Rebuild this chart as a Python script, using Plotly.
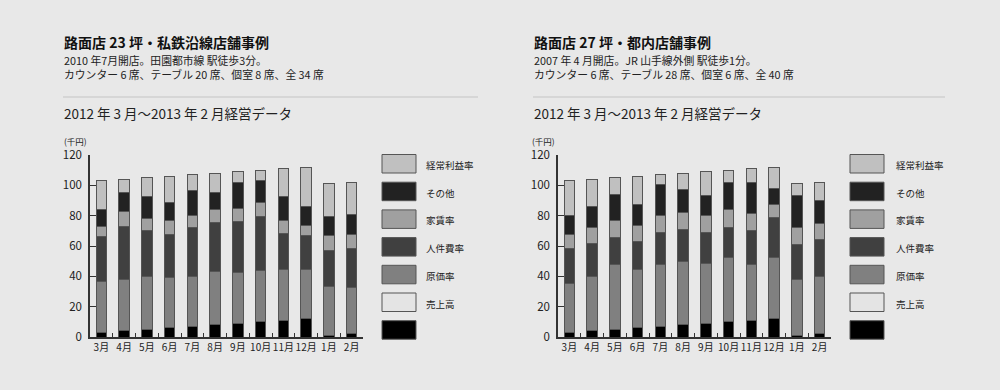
import plotly.graph_objects as go

W, H = 1000, 390
FONT = "Noto Sans CJK JP"
BG = "#e8e8e8"
TXT = "#222222"

months = ["3月", "4月", "5月", "6月", "7月", "8月", "9月", "10月", "11月", "12月", "1月", "2月"]
y_ticks = [0, 20, 40, 60, 80, 100, 120]

# stacked segments, bottom to top (千円)
left_base = [3, 4, 5, 6, 7, 8, 9, 10, 11, 12, 1, 2]
left_genka = [33.3, 34.1, 34.6, 33.0, 32.6, 34.9, 33.7, 33.6, 33.5, 32.5, 32.5, 30.4]
left_jinken = [29.8, 34.6, 30.6, 28.6, 32.6, 32.4, 33.7, 35.9, 23.8, 22.2, 23.5, 26.0]
left_yachin = [6.6, 9.9, 7.7, 9.2, 8.2, 8.8, 8.2, 9.2, 8.3, 6.6, 9.9, 9.2]
left_sonota = [11.6, 12.5, 15.0, 11.9, 16.3, 11.0, 17.6, 14.8, 16.3, 12.8, 12.8, 13.4]
left_keijo = [18.7, 8.9, 12.1, 17.3, 10.3, 12.9, 6.8, 6.5, 18.1, 25.9, 21.3, 21.0]

right_base = [3, 4, 5, 6, 7, 8, 9, 10, 11, 12, 1, 2]
right_genka = [32.4, 35.6, 43.1, 38.8, 40.5, 41.5, 39.6, 42.7, 37.1, 40.1, 36.6, 37.6]
right_jinken = [22.8, 21.9, 17.4, 18.1, 21.1, 21.7, 20.4, 19.4, 22.0, 27.0, 23.3, 24.4]
right_yachin = [9.5, 10.4, 11.0, 10.3, 11.4, 10.8, 10.8, 11.9, 11.4, 8.2, 11.4, 10.9]
right_sonota = [12.7, 14.0, 17.3, 14.1, 20.7, 15.1, 13.4, 18.2, 20.5, 10.5, 21.1, 15.2]
right_keijo = [22.6, 18.1, 11.2, 18.7, 6.3, 10.9, 15.8, 7.8, 9.0, 14.2, 7.6, 11.9]

# legend entries, top to bottom
legend_names = ["経常利益率", "その他", "家賃率", "人件費率", "原価率", "売上高", ""]
legend_colors = ["#c0c0c0", "#222222", "#a0a0a0", "#404040", "#808080", "#e4e4e4", "#000000"]

seg_names = ["", "原価率", "人件費率", "家賃率", "その他", "経常利益率"]
seg_colors = ["#000000", "#808080", "#404040", "#a0a0a0", "#222222", "#c0c0c0"]

left_series = [left_base, left_genka, left_jinken, left_yachin, left_sonota, left_keijo]
right_series = [right_base, right_genka, right_jinken, right_yachin, right_sonota, right_keijo]

left_text = ["路面店 23 坪・私鉄沿線店舗事例",
             "2010 年7月開店。田園都市線 駅徒歩3分。",
             "カウンター 6 席、テーブル 20 席、個室 8 席、全 34 席",
             "2012 年 3 月〜2013 年 2 月経営データ"]
right_text = ["路面店 27 坪・都内店舗事例",
              "2007 年 4 月開店。JR 山手線外側 駅徒歩1分。",
              "カウンター 6 席、テーブル 28 席、個室 6 席、全 40 席",
              "2012 年 3 月〜2013 年 2 月経営データ"]


def px(x):
    return x / W


def py(y):
    return 1 - y / H


fig = go.Figure()

for series, xa, ya in [(left_series, "x", "y"), (right_series, "x2", "y2")]:
    for vals, name, col in zip(series, seg_names, seg_colors):
        fig.add_trace(go.Bar(
            x=months, y=vals, name=name, xaxis=xa, yaxis=ya,
            marker=dict(color=col, line=dict(color="#555555", width=1)),
            showlegend=False, hoverinfo="skip",
        ))

y_top, y_bot = 155, 337
panels = [
    dict(x0=90, x1=363, text=left_text, tx=63, sep1=478, lx=382, ltx=425),
    dict(x0=558, x1=831, text=right_text, tx=533, sep1=945, lx=850, ltx=895),
]

axis_common_x = dict(
    type="category", range=[-0.5, 11.5], showline=True, linecolor="#333333", linewidth=1.5,
    ticks="inside", ticklen=4, tickcolor="#333333", tickson="boundaries", showgrid=False,
    tickangle=0, tickfont=dict(family=FONT, size=10, color=TXT), zeroline=False, fixedrange=True,
    automargin=False,
)
axis_common_y = dict(
    range=[0, 120], tickvals=y_ticks, showline=True, linecolor="#333333", linewidth=1.5,
    ticks="inside", ticklen=6, tickcolor="#333333", showgrid=False, zeroline=False,
    tickfont=dict(family=FONT, size=11.5, color=TXT), ticklabelstandoff=4, fixedrange=True,
    automargin=False,
)

fig.update_layout(
    width=W, height=H, margin=dict(l=0, r=0, t=0, b=0, pad=0, autoexpand=False),
    paper_bgcolor=BG, plot_bgcolor=BG, barmode="stack", bargap=0.53,
    font=dict(family=FONT, color=TXT),
    xaxis=dict(domain=[px(90), px(363)], anchor="y", **axis_common_x),
    yaxis=dict(domain=[py(y_bot), py(y_top)], anchor="x", **axis_common_y),
    xaxis2=dict(domain=[px(558), px(831)], anchor="y2", **axis_common_x),
    yaxis2=dict(domain=[py(y_bot), py(y_top)], anchor="x2", **axis_common_y),
)

shapes = []
annotations = []
for p in panels:
    t = p["text"]
    annotations.append(dict(x=px(p["tx"]), y=py(42), xref="paper", yref="paper", text="<b>" + t[0] + "</b>",
                            showarrow=False, xanchor="left", yanchor="middle", borderpad=0,
                            font=dict(family=FONT, size=14, color="#111111")))
    annotations.append(dict(x=px(p["tx"]), y=py(66.5), xref="paper", yref="paper",
                            text=t[1] + "<br>" + t[2], align="left",
                            showarrow=False, xanchor="left", yanchor="middle", borderpad=0,
                            font=dict(family=FONT, size=10.8, color=TXT)))
    annotations.append(dict(x=px(p["tx"]), y=py(113), xref="paper", yref="paper", text=t[3],
                            showarrow=False, xanchor="left", yanchor="middle", borderpad=0,
                            font=dict(family=FONT, size=13.5, color=TXT)))
    shapes.append(dict(type="line", xref="paper", yref="paper", x0=px(p["tx"]), x1=px(p["sep1"]),
                       y0=py(97), y1=py(97), line=dict(color="#c4c4c4", width=1)))
    annotations.append(dict(x=px(p["x0"] - 27), y=py(141), xref="paper", yref="paper", text="(千円)",
                            showarrow=False, xanchor="left", yanchor="middle", borderpad=0,
                            font=dict(family=FONT, size=8.5, color=TXT)))
    # legend
    for i, (nm, col) in enumerate(zip(legend_names, legend_colors)):
        top = 154.5 + i * 27.7
        shapes.append(dict(type="rect", xref="paper", yref="paper",
                           x0=px(p["lx"]), x1=px(p["lx"] + 34), y0=py(top), y1=py(top + 18.5),
                           fillcolor=col, line=dict(color="#555555", width=1)))
        if nm:
            annotations.append(dict(x=px(p["ltx"]), y=py(top + 10.5), xref="paper", yref="paper", text=nm,
                                    showarrow=False, xanchor="left", yanchor="middle", borderpad=0,
                                    font=dict(family=FONT, size=9.5, color=TXT)))

fig.update_layout(shapes=shapes, annotations=annotations)
fig.write_html(
    "out.html",
    config={"responsive": False, "displayModeBar": False},
    post_script="document.body.style.margin='0';document.body.style.padding='0';"
                "document.documentElement.style.overflow='hidden';document.body.style.overflow='hidden';",
)
